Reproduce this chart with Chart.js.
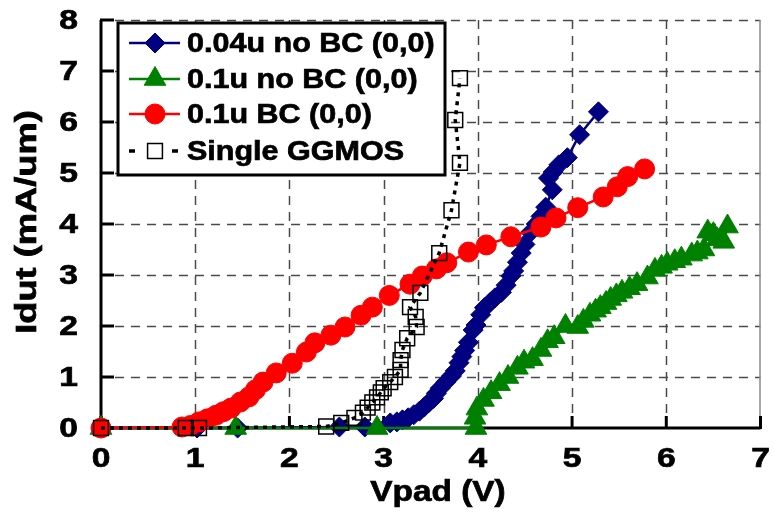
<!DOCTYPE html>
<html>
<head>
<meta charset="utf-8">
<script src="https://cdn.jsdelivr.net/npm/chart.js"></script>
<style>
  html, body { margin: 0; padding: 0; background: #fff; }
</style>
</head>
<body>
<canvas id="grafico" width="774" height="527"></canvas>
<script>
var xTicks = [0, 1, 2, 3, 4, 5, 6, 7];
var yTicks = [0, 1, 2, 3, 4, 5, 6, 7, 8];
var nombres = ['0.04u no BC (0,0)', '0.1u no BC (0,0)', '0.1u BC (0,0)', 'Single GGMOS'];

// 0.04u no BC
var vpadA = [0, 1.02, 1.45, 2.53, 2.80, 3.07, 3.14, 3.20, 3.26, 3.32, 3.38, 3.43, 3.48, 3.53, 3.56, 3.60, 3.66, 3.72, 3.76, 3.80, 3.83, 3.86, 3.90, 3.95, 3.98, 4.03, 4.07, 4.13, 4.18, 4.25, 4.30, 4.35, 4.38, 4.42, 4.46, 4.50, 4.56, 4.62, 4.67, 4.72, 4.79, 4.75, 4.80, 4.86, 4.95, 5.08, 5.28];
var idutA = [0, 0, 0, 0.02, 0.02, 0.10, 0.12, 0.16, 0.20, 0.26, 0.33, 0.41, 0.50, 0.58, 0.68, 0.78, 0.90, 1.02, 1.12, 1.28, 1.40, 1.52, 1.68, 1.92, 2.02, 2.22, 2.36, 2.46, 2.55, 2.66, 2.80, 2.98, 3.08, 3.25, 3.43, 3.60, 3.84, 4.00, 4.15, 4.33, 4.67, 4.90, 5.02, 5.16, 5.30, 5.75, 6.20];
// 0.1u no BC
var vpadB = [0, 1.43, 2.93, 3.98, 3.97, 3.99, 4.06, 4.14, 4.23, 4.32, 4.42, 4.49, 4.58, 4.67, 4.74, 4.81, 4.93, 5.06, 5.12, 5.19, 5.25, 5.30, 5.36, 5.41, 5.47, 5.53, 5.61, 5.69, 5.80, 5.88, 5.95, 6.01, 6.09, 6.16, 6.27, 6.33, 6.40, 6.44, 6.50, 6.54, 6.61, 6.65];
var idutB = [0, 0, 0, 0, 0.20, 0.38, 0.55, 0.70, 0.86, 1.00, 1.18, 1.30, 1.35, 1.53, 1.70, 1.78, 2.00, 1.98, 2.10, 2.22, 2.30, 2.37, 2.45, 2.53, 2.60, 2.67, 2.74, 2.82, 2.95, 3.10, 3.16, 3.22, 3.27, 3.32, 3.40, 3.44, 3.50, 3.85, 3.80, 3.70, 3.65, 3.95];
// 0.1u BC
var vpadC = [0, 0.86, 0.95, 1.04, 1.13, 1.22, 1.30, 1.38, 1.48, 1.57, 1.64, 1.72, 1.86, 2.03, 2.18, 2.27, 2.44, 2.59, 2.76, 2.88, 3.06, 3.28, 3.41, 3.56, 3.67, 3.90, 4.09, 4.35, 4.67, 4.83, 5.06, 5.33, 5.48, 5.59, 5.77];
var idutC = [0, 0.02, 0.05, 0.12, 0.18, 0.25, 0.32, 0.39, 0.51, 0.61, 0.75, 0.90, 1.08, 1.27, 1.49, 1.67, 1.82, 1.98, 2.21, 2.37, 2.60, 2.82, 2.98, 3.12, 3.24, 3.45, 3.59, 3.75, 3.94, 4.12, 4.32, 4.53, 4.73, 4.93, 5.08];
// Single GGMOS
var vpadD = [0, 0.90, 1.04, 2.39, 2.55, 2.69, 2.78, 2.83, 2.88, 2.93, 2.97, 3.00, 3.07, 3.12, 3.18, 3.18, 3.20, 3.25, 3.35, 3.34, 3.28, 3.39, 3.59, 3.72, 3.81, 3.76, 3.81];
var idutD = [0, 0, 0, 0.03, 0.10, 0.20, 0.30, 0.40, 0.50, 0.60, 0.70, 0.78, 0.90, 1.00, 1.14, 1.33, 1.53, 1.76, 1.98, 2.18, 2.37, 2.65, 3.43, 4.27, 5.20, 6.04, 6.86];

function puntos(xs, ys) {
  return xs.map(function (x, i) { return { x: x, y: ys[i] }; });
}

var fuente = "'Liberation Sans', Arial, sans-serif";

// texto ensanchado y un poco más grueso, como en la figura original
function texto(ctx, s, x, y, sx, align, giro) {
  ctx.save();
  ctx.translate(x, y);
  if (giro) ctx.rotate(giro);
  ctx.scale(sx, 1);
  ctx.textAlign = align;
  ctx.textBaseline = 'middle';
  ctx.lineWidth = 0.7;
  ctx.strokeStyle = ctx.fillStyle;
  ctx.fillText(s, 0, 0);
  ctx.strokeText(s, 0, 0);
  ctx.restore();
}

var rejilla = {
  id: 'rejilla',
  beforeDatasetsDraw: function (chart) {
    var ctx = chart.ctx, a = chart.chartArea;
    var sx = chart.scales.x, sy = chart.scales.y;
    ctx.save();
    ctx.strokeStyle = '#4a4a4a';
    ctx.lineWidth = 1.5;
    ctx.setLineDash([9, 7]);
    yTicks.slice(1).forEach(function (v) {
      var py = Math.round(sy.getPixelForValue(v)) + 0.5;
      ctx.beginPath(); ctx.moveTo(a.left + 14, py); ctx.lineTo(a.right, py); ctx.stroke();
    });
    xTicks.slice(1, -1).forEach(function (v) {
      var px = Math.round(sx.getPixelForValue(v)) + 0.5;
      ctx.beginPath(); ctx.moveTo(px, a.top); ctx.lineTo(px, a.bottom - 12); ctx.stroke();
    });
    ctx.setLineDash([]);
    ctx.strokeStyle = '#8a8a8a';
    ctx.beginPath(); ctx.moveTo(a.right - 0.5, a.top); ctx.lineTo(a.right - 0.5, a.bottom); ctx.stroke();
    // ejes
    ctx.strokeStyle = '#000';
    ctx.lineWidth = 3;
    ctx.beginPath(); ctx.moveTo(a.left, a.top); ctx.lineTo(a.left, a.bottom); ctx.lineTo(a.right, a.bottom); ctx.stroke();
    yTicks.forEach(function (v) {
      var py = sy.getPixelForValue(v);
      ctx.beginPath(); ctx.moveTo(a.left - 1, py); ctx.lineTo(a.left + 13, py); ctx.stroke();
    });
    xTicks.forEach(function (v) {
      var px = sx.getPixelForValue(v);
      ctx.beginPath(); ctx.moveTo(px, a.bottom + 1); ctx.lineTo(px, a.bottom - 12); ctx.stroke();
    });
    ctx.restore();
  },
  afterDraw: function (chart) {
    var ctx = chart.ctx;
    var sx = chart.scales.x, sy = chart.scales.y;
    ctx.save();
    ctx.fillStyle = '#000';
    ctx.font = 'bold 28px ' + fuente;
    yTicks.forEach(function (v) {
      texto(ctx, String(v), 78, sy.getPixelForValue(v) + 1, 1.2, 'right');
    });
    xTicks.forEach(function (v) {
      texto(ctx, String(v), sx.getPixelForValue(v), 459, 1.2, 'center');
    });
    ctx.font = 'bold 29px ' + fuente;
    texto(ctx, 'Vpad (V)', 438, 493, 1.15, 'center');
    texto(ctx, 'Idut (mA/um)', 28, 222, 1.25, 'center', -Math.PI / 2);

    // leyenda
    ctx.fillStyle = '#fff';
    ctx.fillRect(118, 23, 327, 152);
    ctx.strokeStyle = '#000';
    ctx.lineWidth = 3;
    ctx.strokeRect(118, 23, 327, 152);
    var filas = [43, 79, 114, 151];
    chart.data.datasets.forEach(function (ds, i) {
      var y = filas[i];
      ctx.save();
      ctx.strokeStyle = ds.borderColor;
      ctx.lineWidth = ds.borderWidth;
      if (ds.borderDash) {
        ctx.beginPath(); ctx.moveTo(129, y); ctx.lineTo(135, y); ctx.stroke();
        ctx.beginPath(); ctx.moveTo(172, y); ctx.lineTo(178, y); ctx.stroke();
      } else {
        ctx.beginPath(); ctx.moveTo(129, y); ctx.lineTo(180, y); ctx.stroke();
      }
      ctx.fillStyle = ds.pointBackgroundColor;
      ctx.strokeStyle = ds.pointBorderColor;
      ctx.lineWidth = ds.pointBorderWidth;
      Chart.helpers.drawPoint(ctx, {
        pointStyle: ds.pointStyle,
        radius: ds.pointRadius,
        rotation: 0,
        borderWidth: ds.pointBorderWidth
      }, 155, y);
      ctx.restore();
      ctx.fillStyle = '#000';
      ctx.font = 'bold 28px ' + fuente;
      texto(ctx, nombres[i], 187, y + 1, 1.09, 'left');
    });
    ctx.restore();
  }
};

var ctx = document.getElementById('grafico').getContext('2d');
var grafico = new Chart(ctx, {
  type: 'scatter',
  data: {
    datasets: [{
      label: nombres[0],
      data: puntos(vpadA, idutA),
      showLine: true,
      borderColor: '#000080',
      borderWidth: 2.5,
      pointStyle: 'rectRot',
      pointRadius: 10,
      pointBackgroundColor: '#000080',
      pointBorderColor: '#000080',
      pointBorderWidth: 1,
      order: 3,
      clip: false
    }, {
      label: nombres[1],
      data: puntos(vpadB, idutB),
      showLine: true,
      borderColor: '#008000',
      borderWidth: 2.5,
      pointStyle: 'triangle',
      pointRadius: 12.5,
      pointBackgroundColor: '#008000',
      pointBorderColor: '#008000',
      pointBorderWidth: 1,
      order: 2,
      clip: false
    }, {
      label: nombres[2],
      data: puntos(vpadC, idutC),
      showLine: true,
      borderColor: '#ff0000',
      borderWidth: 2.5,
      pointStyle: 'circle',
      pointRadius: 10,
      pointBackgroundColor: '#ff0000',
      pointBorderColor: '#ff0000',
      pointBorderWidth: 1,
      order: 1,
      clip: false
    }, {
      label: nombres[3],
      data: puntos(vpadD, idutD),
      showLine: true,
      borderColor: '#000',
      borderWidth: 3.5,
      borderDash: [4, 5],
      pointStyle: 'rect',
      pointRadius: 10.5,
      pointBackgroundColor: 'rgba(0,0,0,0)',
      pointBorderColor: '#000',
      pointBorderWidth: 1.5,
      order: 0,
      clip: false
    }]
  },
  options: {
    responsive: false,
    animation: false,
    layout: { padding: { left: 101, right: 7, top: 20, bottom: 99 } },
    plugins: { legend: { display: false }, tooltip: { enabled: false } },
    scales: {
      x: { type: 'linear', min: 0, max: 7, display: false },
      y: { type: 'linear', min: 0, max: 8, display: false }
    }
  },
  plugins: [rejilla]
});
</script>
</body>
</html>
